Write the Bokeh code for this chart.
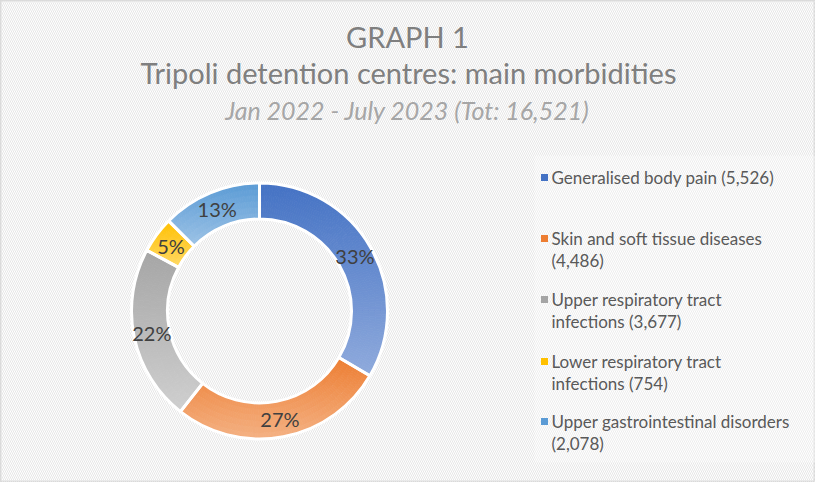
import math
from bokeh.plotting import figure
from bokeh.models import BoxAnnotation, Range1d, ColumnDataSource
from bokeh.core.properties import value
from bokeh.embed import file_html
from bokeh.resources import INLINE

# ---- data ----
categories = [
    "Generalised body pain",
    "Skin and soft tissue diseases",
    "Upper respiratory tract infections",
    "Lower respiratory tract infections",
    "Upper gastrointestinal disorders",
]
legend_lines = [
    ["Generalised body pain (5,526)"],
    ["Skin and soft tissue diseases", "(4,486)"],
    ["Upper respiratory tract", "infections (3,677)"],
    ["Lower respiratory tract", "infections (754)"],
    ["Upper gastrointestinal disorders", "(2,078)"],
]
counts = [5526, 4486, 3677, 754, 2078]
top_colors = ["#4472C4", "#ED7D31", "#A5A5A5", "#FFC000", "#5B9BD5"]
bottom_colors = ["#8FAADC", "#F4B183", "#CFCFCF", "#FFD966", "#9DC3E6"]
title_lines = ["GRAPH 1", "Tripoli detention centres: main morbidities"]
subtitle = "Jan 2022 - July 2023 (Tot: 16,521)"

# ---- layout ----
W, H = 815, 482
def fx(rx):
    return rx - 8
def fy(ry):
    return H + 8 - ry

CX, CY = fx(267), fy(318.5)
R_OUT, R_IN = 128, 92

p = figure(width=W, height=H, x_range=Range1d(0, W), y_range=Range1d(0, H),
           output_backend="svg", toolbar_location=None, min_border=0,
           x_axis_location=None, y_axis_location=None)
p.grid.visible = False
p.background_fill_color = "white"
p.border_fill_color = "white"
p.outline_line_color = "#D9D9D9"
p.outline_line_width = 2

bg = BoxAnnotation(fill_alpha=0, line_alpha=0, hatch_pattern="\\",
                   hatch_color="#E6E6E6", hatch_scale=4, hatch_weight=1.0,
                   level="underlay")
p.add_layout(bg)
leg_box = BoxAnnotation(left=fx(542), right=fx(823), top=fy(163), bottom=fy(470),
                        fill_color="white", fill_alpha=0.3, line_alpha=0,
                        level="underlay")
p.add_layout(leg_box)

def hex2rgb(h):
    h = h.lstrip("#")
    return tuple(int(h[i:i + 2], 16) for i in (0, 2, 4))

def lerp(c1, c2, t):
    a, b = hex2rgb(c1), hex2rgb(c2)
    return "#%02x%02x%02x" % tuple(int(round(a[i] + (b[i] - a[i]) * t)) for i in range(3))

total = sum(counts)
starts, ends = [], []
cum = 0
for v in counts:
    a0 = math.pi / 2 - 2 * math.pi * cum / total
    cum += v
    a1 = math.pi / 2 - 2 * math.pi * cum / total
    starts.append(a0)
    ends.append(a1)

# gradient cells
gx, gy, gin, gout, gs, ge, gc = [], [], [], [], [], [], []
NR = 6
for i, v in enumerate(counts):
    a0, a1 = starts[i], ends[i]
    ys = []
    for k in range(101):
        a = a0 + (a1 - a0) * k / 100
        ys.append(R_OUT * math.sin(a))
        ys.append(R_IN * math.sin(a))
    ymax, ymin = max(ys), min(ys)
    na = max(6, int(300 * v / total))
    for k in range(na):
        s = a0 + (a1 - a0) * k / na
        e = a0 + (a1 - a0) * (k + 1) / na
        am = (s + e) / 2
        for j in range(NR):
            ri = R_IN + (R_OUT - R_IN) * j / NR
            ro = R_IN + (R_OUT - R_IN) * (j + 1) / NR
            rm = (ri + ro) / 2
            y = rm * math.sin(am)
            t = (ymax - y) / (ymax - ymin) if ymax > ymin else 0
            gx.append(CX); gy.append(CY)
            gin.append(ri); gout.append(ro)
            gs.append(s); ge.append(e)
            gc.append(lerp(top_colors[i], bottom_colors[i], t))

p.annular_wedge(x=gx, y=gy, inner_radius=gin, outer_radius=gout,
                start_angle=gs, end_angle=ge, direction="clock",
                fill_color=gc, line_color=gc, line_width=0.8)

# slice outlines (white separators)
src = ColumnDataSource(dict(x=[CX] * len(counts), y=[CY] * len(counts),
                            start=starts, end=ends, cat=categories))
p.annular_wedge(x="x", y="y", inner_radius=R_IN, outer_radius=R_OUT,
                start_angle="start", end_angle="end", direction="clock",
                fill_alpha=0, line_color="white", line_width=3, source=src)

# percentage labels
lx, ly, lt = [], [], []
RL = (R_IN + R_OUT) / 2
for i, v in enumerate(counts):
    am = (starts[i] + ends[i]) / 2
    lx.append(CX + RL * math.cos(am))
    ly.append(CY + RL * math.sin(am))
    lt.append("%d%%" % round(100 * v / total))
p.text(x=lx, y=ly, text=lt, text_font=value("Lato"), text_font_size="20px",
       text_align="center", text_baseline="middle", text_color="#404040")

# titles
p.text(x=[fx(415), fx(416)], y=[fy(44), fy(80)], text=title_lines,
       text_font=value("Lato"), text_font_size="29px",
       text_align="center", text_baseline="middle", text_color="#7F7F7F")
p.text(x=[fx(415)], y=[fy(117)], text=[subtitle],
       text_font=value("Lato"), text_font_size="25px", text_font_style="italic",
       text_align="center", text_baseline="middle", text_color="#A6A6A6")

# legend
first_y = [185, 246, 307, 369, 429]
mx, my = [], []
tx, ty, tt = [], [], []
for i, lines in enumerate(legend_lines):
    mx.append(fx(552)); my.append(fy(first_y[i]))
    for j, ln in enumerate(lines):
        tx.append(fx(559)); ty.append(fy(first_y[i] + 22 * j)); tt.append(ln)
p.scatter(x=mx, y=my, marker="square", size=7, fill_color=top_colors,
          line_color=None)
p.text(x=tx, y=ty, text=tt, text_font=value("Lato"), text_font_size="17px",
       text_align="left", text_baseline="middle", text_color="#595959")

open("out.html", "w").write(file_html(p, INLINE))
